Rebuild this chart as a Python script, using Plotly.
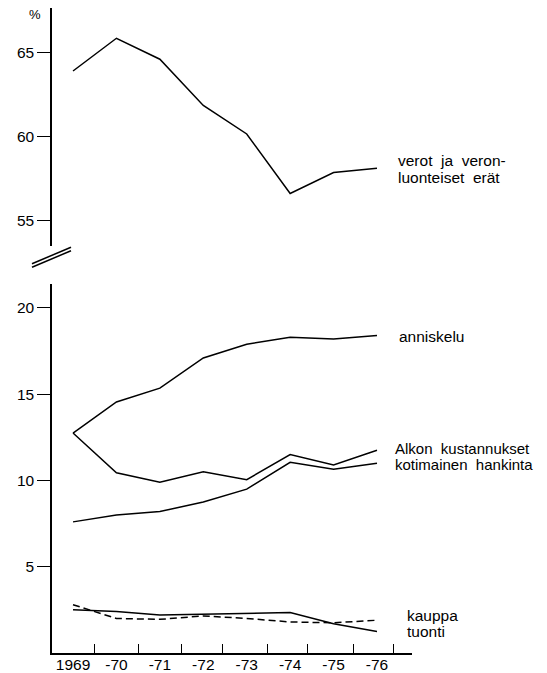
import plotly.graph_objects as go

# ---- data ----
years = [1969, 1970, 1971, 1972, 1973, 1974, 1975, 1976]
year_labels = ["1969", "-70", "-71", "-72", "-73", "-74", "-75", "-76"]
tick_marks = [1969.5, 1970.5, 1971.5, 1972.45, 1973.47, 1974.39, 1975.45, 1976.39]

verot = [63.9, 65.85, 64.6, 61.85, 60.15, 56.6, 57.85, 58.1]
anniskelu = [12.75, 14.55, 15.35, 17.1, 17.9, 18.3, 18.2, 18.4]
alkon = [12.75, 10.45, 9.9, 10.5, 10.05, 11.5, 10.9, 11.75]
kotimainen = [7.6, 8.0, 8.2, 8.75, 9.5, 11.05, 10.65, 11.0]
kauppa = [2.8, 2.0, 1.95, 2.15, 2.0, 1.8, 1.75, 1.9]
tuonti = [2.5, 2.4, 2.2, 2.25, 2.3, 2.35, 1.7, 1.25]

top_ticks = [55, 60, 65]
bottom_ticks = [5, 10, 15, 20]

FONT = "Liberation Sans, Arial, sans-serif"
OFF = 8  # page body margin
W, H = 547 - OFF, 673 - OFF
ML, MR, MB = 52 - OFF, 135, 26 - OFF
MT = 0
PW = W - ML - MR
PH = H - MT - MB

def px(xp):
    return (xp - OFF - ML) / PW

def py(yp):
    return (H - MB - (yp - OFF)) / PH

line = dict(color="black", width=1.5)

fig = go.Figure()
fig.add_trace(go.Scatter(x=years, y=verot, xaxis="x", yaxis="y2", mode="lines", line=line))
fig.add_trace(go.Scatter(x=years, y=anniskelu, mode="lines", line=line))
fig.add_trace(go.Scatter(x=years, y=alkon, mode="lines", line=line))
fig.add_trace(go.Scatter(x=years, y=kotimainen, mode="lines", line=line))
fig.add_trace(go.Scatter(x=years, y=tuonti, mode="lines", line=line))
fig.add_trace(go.Scatter(x=years, y=kauppa, mode="lines",
                         line=dict(color="black", width=1.5, dash="7px,4px")))

xr = [1968.516, 1976.806]
top_val = 67.83 - (OFF - 5) / 16.83

fig.update_layout(
    width=W, height=H,
    margin=dict(l=ML, r=MR, t=MT, b=MB, pad=0),
    paper_bgcolor="white", plot_bgcolor="white",
    showlegend=False,
    font=dict(family=FONT, size=15, color="black"),
    xaxis=dict(range=xr, domain=[0, 1], anchor="y", showline=True, linecolor="black",
               linewidth=1.5, showgrid=False, zeroline=False, tickvals=tick_marks,
               ticks="inside", ticklen=9, tickwidth=1.3, tickcolor="black",
               showticklabels=False),
    xaxis2=dict(range=xr, overlaying="x", anchor="y", side="bottom", showline=False,
                showgrid=False, zeroline=False, tickvals=years, ticktext=year_labels,
                ticks="", tickfont=dict(size=15.5), ticklabelstandoff=0),
    yaxis=dict(range=[0, 21.38], domain=[0, py(285)], anchor="x", showline=True,
               linecolor="black", linewidth=1.5, showgrid=False, zeroline=False,
               tickvals=bottom_ticks, ticks="outside", ticklen=13, tickwidth=1.3,
               tickcolor="black", tickfont=dict(size=15.5)),
    yaxis2=dict(range=[53.46, top_val], domain=[py(247), 1], anchor="x", showline=True,
                linecolor="black", linewidth=1.5, showgrid=False, zeroline=False,
                tickvals=top_ticks, ticks="outside", ticklen=13, tickwidth=1.3,
                tickcolor="black", tickfont=dict(size=15.5)),
)
# invisible trace to activate xaxis2 for the year labels
fig.add_trace(go.Scatter(x=[years[0]], y=[0], xaxis="x2", yaxis="y", mode="markers",
                         marker=dict(opacity=0), hoverinfo="skip"))

# axis break marks
for (x0, y0, x1, y1) in [(32, 268.0, 71, 251.5), (32, 264.5, 71, 248.0)]:
    fig.add_shape(type="line", xref="paper", yref="paper",
                  x0=px(x0), y0=py(y0), x1=px(x1), y1=py(y1),
                  line=dict(color="black", width=1.5))

S = "\u00a0 "
labels = [
    ("%", 35, 15, "center", 13),
    ("verot" + S + "ja" + S + "veron-", 396, 161, "left", 15.5),
    ("luonteiset" + S + "erät", 396, 178, "left", 15.5),
    ("anniskelu", 397, 338, "left", 15.5),
    ("Alkon" + S + "kustannukset", 393, 450, "left", 15),
    ("kotimainen" + S + "hankinta", 393, 466, "left", 15),
    ("kauppa", 405, 617, "left", 15.5),
    ("tuonti", 405, 633, "left", 15.5),
]
for text, xp, yp, anc, fs in labels:
    fig.add_annotation(text=text, xref="paper", yref="paper", x=px(xp), y=py(yp),
                       xanchor=anc, yanchor="middle", showarrow=False,
                       font=dict(family=FONT, size=fs, color="black"))

fig.write_html("out.html")
